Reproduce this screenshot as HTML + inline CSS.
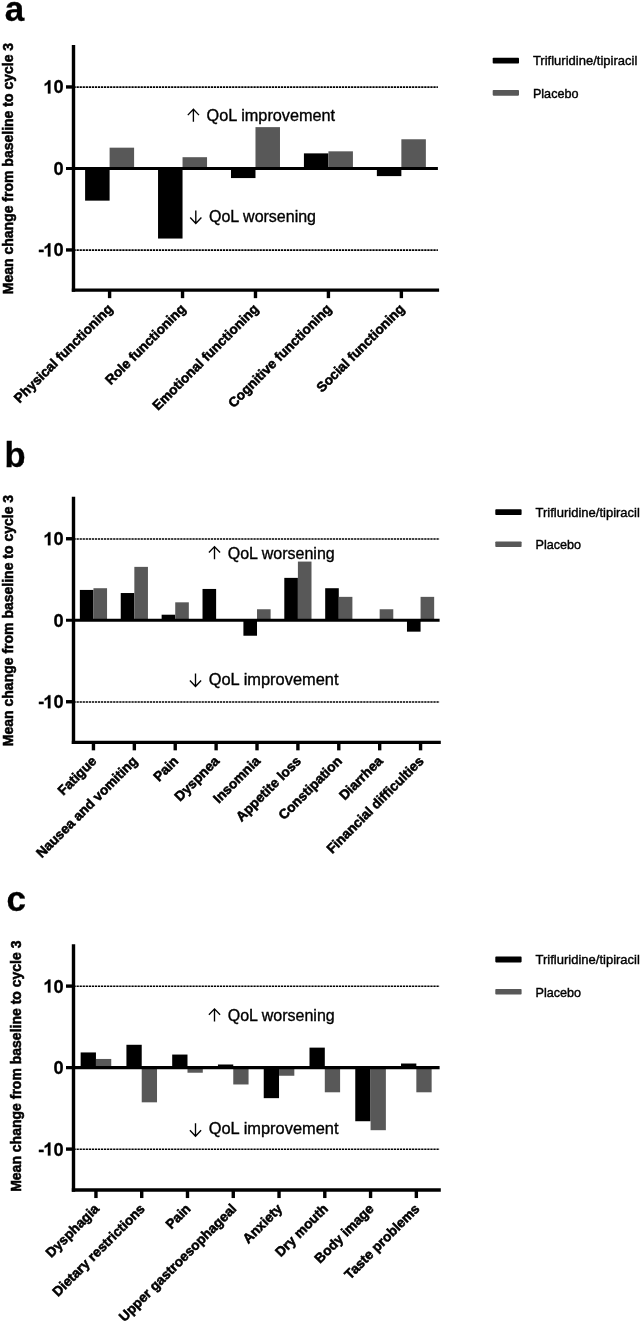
<!DOCTYPE html>
<html><head><meta charset="utf-8"><title>QoL charts</title>
<style>
html,body{margin:0;padding:0;background:#fff;}
svg{display:block;will-change:transform;}
text{font-family:"Liberation Sans",sans-serif;fill:#000;}
.tk{font-size:18.2px;font-weight:bold;stroke:#000;stroke-width:0.3px;}
.xl{font-size:13.6px;font-weight:bold;stroke:#000;stroke-width:0.55px;}
.yl{font-size:14px;font-weight:bold;stroke:#000;stroke-width:0.55px;}
.an{font-size:16px;stroke:#000;stroke-width:0.35px;}
.lg{font-size:13px;stroke:#000;stroke-width:0.4px;}
.lt{font-weight:bold;stroke:#000;stroke-width:0.3px;}
</style></head><body>
<svg width="642" height="1323" viewBox="0 0 642 1323">
<line x1="73.5" y1="87.15" x2="437.90" y2="87.15" stroke="#000" stroke-width="1.6" stroke-dasharray="2.25 0.8"/>
<line x1="73.5" y1="250.15" x2="437.90" y2="250.15" stroke="#000" stroke-width="1.6" stroke-dasharray="2.25 0.8"/>
<rect x="85.10" y="168.45" width="24.50" height="32.19" fill="#000"/>
<rect x="109.60" y="147.67" width="24.50" height="20.78" fill="#585858"/>
<rect x="158.04" y="168.45" width="24.50" height="70.09" fill="#000"/>
<rect x="182.54" y="157.20" width="24.50" height="11.25" fill="#585858"/>
<rect x="230.98" y="168.45" width="24.50" height="9.62" fill="#000"/>
<rect x="255.48" y="127.13" width="24.50" height="41.32" fill="#585858"/>
<rect x="303.92" y="153.37" width="24.50" height="15.08" fill="#000"/>
<rect x="328.42" y="151.33" width="24.50" height="17.12" fill="#585858"/>
<rect x="376.86" y="168.45" width="24.50" height="7.66" fill="#000"/>
<rect x="401.36" y="139.27" width="24.50" height="29.18" fill="#585858"/>
<line x1="73.5" y1="45.05" x2="73.5" y2="291.85" stroke="#000" stroke-width="3.4"/>
<line x1="71.8" y1="290.15" x2="439.1" y2="290.15" stroke="#000" stroke-width="3.4"/>
<line x1="66.0" y1="168.45" x2="437.90" y2="168.45" stroke="#000" stroke-width="3.15"/>
<line x1="66.0" y1="86.95" x2="73.5" y2="86.95" stroke="#000" stroke-width="3.4"/>
<line x1="66.0" y1="249.95" x2="73.5" y2="249.95" stroke="#000" stroke-width="3.4"/>
<text x="53.38" y="93.45" class="tk">0</text>
<path d="M806 0H525V1059Q371 915 162 846V1101Q272 1137 401 1237.5Q530 1338 578 1472H806Z" transform="translate(43.26,93.45) scale(0.00889,-0.00889)" fill="#000" stroke="#000" stroke-width="33.8"/>
<text x="53.38" y="174.95" class="tk">0</text>
<text x="53.38" y="256.45" class="tk">0</text>
<path d="M806 0H525V1059Q371 915 162 846V1101Q272 1137 401 1237.5Q530 1338 578 1472H806Z" transform="translate(43.26,256.45) scale(0.00889,-0.00889)" fill="#000" stroke="#000" stroke-width="33.8"/>
<text x="38.20" y="256.45" class="tk">-</text>
<line x1="109.60" y1="290.15" x2="109.60" y2="298.15" stroke="#000" stroke-width="3.4"/>
<text transform="translate(113.60,309.65) rotate(-45)" text-anchor="end" class="xl">Physical functioning</text>
<line x1="182.54" y1="290.15" x2="182.54" y2="298.15" stroke="#000" stroke-width="3.4"/>
<text transform="translate(186.54,309.65) rotate(-45)" text-anchor="end" class="xl">Role functioning</text>
<line x1="255.48" y1="290.15" x2="255.48" y2="298.15" stroke="#000" stroke-width="3.4"/>
<text transform="translate(259.48,309.65) rotate(-45)" text-anchor="end" class="xl">Emotional functioning</text>
<line x1="328.42" y1="290.15" x2="328.42" y2="298.15" stroke="#000" stroke-width="3.4"/>
<text transform="translate(332.42,309.65) rotate(-45)" text-anchor="end" class="xl">Cognitive functioning</text>
<line x1="401.36" y1="290.15" x2="401.36" y2="298.15" stroke="#000" stroke-width="3.4"/>
<text transform="translate(405.36,309.65) rotate(-45)" text-anchor="end" class="xl">Social functioning</text>
<text transform="translate(12.6,168.55) rotate(-90)" text-anchor="middle" class="yl">Mean change from baseline to cycle 3</text>
<path d="M193.40,109.20V121.80M187.80,115.10L193.40,109.20L199.00,115.10" fill="none" stroke="#000" stroke-width="1.35" stroke-linejoin="miter"/>
<text x="206.60" y="121.40" class="an" textLength="128.5" lengthAdjust="spacingAndGlyphs">QoL improvement</text>
<path d="M195.80,210.40V223.40M190.20,217.50L195.80,223.40L201.40,217.50" fill="none" stroke="#000" stroke-width="1.35" stroke-linejoin="miter"/>
<text x="209.00" y="221.60" class="an" textLength="107" lengthAdjust="spacingAndGlyphs">QoL worsening</text>
<rect x="492.70" y="57.75" width="26.3" height="5.8" rx="0.8" fill="#000"/>
<rect x="492.70" y="90.05" width="26.3" height="5.6" rx="0.8" fill="#585858"/>
<text x="532.90" y="65.35" class="lg" textLength="104.4" lengthAdjust="spacingAndGlyphs">Trifluridine/tipiracil</text>
<text x="532.90" y="97.65" class="lg" textLength="45.6" lengthAdjust="spacingAndGlyphs">Placebo</text>
<text x="4.8" y="20.6" class="lt" font-size="35">a</text>
<line x1="73.5" y1="538.95" x2="439.60" y2="538.95" stroke="#000" stroke-width="1.6" stroke-dasharray="2.25 0.8"/>
<line x1="73.5" y1="701.95" x2="439.60" y2="701.95" stroke="#000" stroke-width="1.6" stroke-dasharray="2.25 0.8"/>
<rect x="79.85" y="589.93" width="13.60" height="30.32" fill="#000"/>
<rect x="93.45" y="588.22" width="13.60" height="32.03" fill="#585858"/>
<rect x="120.74" y="593.03" width="13.60" height="27.22" fill="#000"/>
<rect x="134.34" y="566.87" width="13.60" height="53.38" fill="#585858"/>
<rect x="161.63" y="614.71" width="13.60" height="5.54" fill="#000"/>
<rect x="175.23" y="602.32" width="13.60" height="17.93" fill="#585858"/>
<rect x="202.52" y="588.95" width="13.60" height="31.30" fill="#000"/>
<rect x="243.41" y="620.25" width="13.60" height="15.48" fill="#000"/>
<rect x="257.01" y="609.25" width="13.60" height="11.00" fill="#585858"/>
<rect x="284.30" y="577.87" width="13.60" height="42.38" fill="#000"/>
<rect x="297.90" y="561.57" width="13.60" height="58.68" fill="#585858"/>
<rect x="325.19" y="588.22" width="13.60" height="32.03" fill="#000"/>
<rect x="338.79" y="596.86" width="13.60" height="23.39" fill="#585858"/>
<rect x="379.68" y="609.25" width="13.60" height="11.00" fill="#585858"/>
<rect x="406.97" y="620.25" width="13.60" height="11.41" fill="#000"/>
<rect x="420.57" y="596.86" width="13.60" height="23.39" fill="#585858"/>
<line x1="73.5" y1="496.85" x2="73.5" y2="744.05" stroke="#000" stroke-width="3.4"/>
<line x1="71.8" y1="742.35" x2="440.8" y2="742.35" stroke="#000" stroke-width="3.4"/>
<line x1="66.0" y1="620.25" x2="439.60" y2="620.25" stroke="#000" stroke-width="3.15"/>
<line x1="66.0" y1="538.75" x2="73.5" y2="538.75" stroke="#000" stroke-width="3.4"/>
<line x1="66.0" y1="701.75" x2="73.5" y2="701.75" stroke="#000" stroke-width="3.4"/>
<text x="53.38" y="545.25" class="tk">0</text>
<path d="M806 0H525V1059Q371 915 162 846V1101Q272 1137 401 1237.5Q530 1338 578 1472H806Z" transform="translate(43.26,545.25) scale(0.00889,-0.00889)" fill="#000" stroke="#000" stroke-width="33.8"/>
<text x="53.38" y="626.75" class="tk">0</text>
<text x="53.38" y="708.25" class="tk">0</text>
<path d="M806 0H525V1059Q371 915 162 846V1101Q272 1137 401 1237.5Q530 1338 578 1472H806Z" transform="translate(43.26,708.25) scale(0.00889,-0.00889)" fill="#000" stroke="#000" stroke-width="33.8"/>
<text x="38.20" y="708.25" class="tk">-</text>
<line x1="93.45" y1="742.35" x2="93.45" y2="750.35" stroke="#000" stroke-width="3.4"/>
<text transform="translate(97.45,761.85) rotate(-45)" text-anchor="end" class="xl">Fatigue</text>
<line x1="134.34" y1="742.35" x2="134.34" y2="750.35" stroke="#000" stroke-width="3.4"/>
<text transform="translate(138.34,761.85) rotate(-45)" text-anchor="end" class="xl">Nausea and vomiting</text>
<line x1="175.23" y1="742.35" x2="175.23" y2="750.35" stroke="#000" stroke-width="3.4"/>
<text transform="translate(179.23,761.85) rotate(-45)" text-anchor="end" class="xl">Pain</text>
<line x1="216.12" y1="742.35" x2="216.12" y2="750.35" stroke="#000" stroke-width="3.4"/>
<text transform="translate(220.12,761.85) rotate(-45)" text-anchor="end" class="xl">Dyspnea</text>
<line x1="257.01" y1="742.35" x2="257.01" y2="750.35" stroke="#000" stroke-width="3.4"/>
<text transform="translate(261.01,761.85) rotate(-45)" text-anchor="end" class="xl">Insomnia</text>
<line x1="297.90" y1="742.35" x2="297.90" y2="750.35" stroke="#000" stroke-width="3.4"/>
<text transform="translate(301.90,761.85) rotate(-45)" text-anchor="end" class="xl">Appetite loss</text>
<line x1="338.79" y1="742.35" x2="338.79" y2="750.35" stroke="#000" stroke-width="3.4"/>
<text transform="translate(342.79,761.85) rotate(-45)" text-anchor="end" class="xl">Constipation</text>
<line x1="379.68" y1="742.35" x2="379.68" y2="750.35" stroke="#000" stroke-width="3.4"/>
<text transform="translate(383.68,761.85) rotate(-45)" text-anchor="end" class="xl">Diarrhea</text>
<line x1="420.57" y1="742.35" x2="420.57" y2="750.35" stroke="#000" stroke-width="3.4"/>
<text transform="translate(424.57,761.85) rotate(-45)" text-anchor="end" class="xl">Financial difficulties</text>
<text transform="translate(12.6,620.50) rotate(-90)" text-anchor="middle" class="yl">Mean change from baseline to cycle 3</text>
<path d="M214.50,546.65V559.25M208.90,552.55L214.50,546.65L220.10,552.55" fill="none" stroke="#000" stroke-width="1.35" stroke-linejoin="miter"/>
<text x="227.70" y="558.85" class="an" textLength="107" lengthAdjust="spacingAndGlyphs">QoL worsening</text>
<path d="M195.50,673.45V686.45M189.90,680.55L195.50,686.45L201.10,680.55" fill="none" stroke="#000" stroke-width="1.35" stroke-linejoin="miter"/>
<text x="208.70" y="684.65" class="an" textLength="129.8" lengthAdjust="spacingAndGlyphs">QoL improvement</text>
<rect x="495.30" y="509.15" width="26.3" height="5.8" rx="0.8" fill="#000"/>
<rect x="495.30" y="541.45" width="26.3" height="5.6" rx="0.8" fill="#585858"/>
<text x="535.50" y="516.75" class="lg" textLength="104.4" lengthAdjust="spacingAndGlyphs">Trifluridine/tipiracil</text>
<text x="535.50" y="549.05" class="lg" textLength="45.6" lengthAdjust="spacingAndGlyphs">Placebo</text>
<text x="4.4" y="466.5" class="lt" font-size="34.5">b</text>
<line x1="73.5" y1="986.30" x2="439.60" y2="986.30" stroke="#000" stroke-width="1.6" stroke-dasharray="2.25 0.8"/>
<line x1="73.5" y1="1149.30" x2="439.60" y2="1149.30" stroke="#000" stroke-width="1.6" stroke-dasharray="2.25 0.8"/>
<rect x="80.65" y="1052.44" width="15.30" height="15.16" fill="#000"/>
<rect x="95.95" y="1058.96" width="15.30" height="8.64" fill="#585858"/>
<rect x="126.42" y="1044.78" width="15.30" height="22.82" fill="#000"/>
<rect x="141.72" y="1067.60" width="15.30" height="34.72" fill="#585858"/>
<rect x="172.19" y="1054.56" width="15.30" height="13.04" fill="#000"/>
<rect x="187.49" y="1067.60" width="15.30" height="5.13" fill="#585858"/>
<rect x="217.96" y="1064.50" width="15.30" height="3.10" fill="#000"/>
<rect x="233.26" y="1067.60" width="15.30" height="16.87" fill="#585858"/>
<rect x="263.73" y="1067.60" width="15.30" height="30.56" fill="#000"/>
<rect x="279.03" y="1067.60" width="15.30" height="8.15" fill="#585858"/>
<rect x="309.50" y="1047.63" width="15.30" height="19.97" fill="#000"/>
<rect x="324.80" y="1067.60" width="15.30" height="24.69" fill="#585858"/>
<rect x="355.27" y="1067.60" width="15.30" height="53.63" fill="#000"/>
<rect x="370.57" y="1067.60" width="15.30" height="62.59" fill="#585858"/>
<rect x="401.04" y="1063.52" width="15.30" height="4.08" fill="#000"/>
<rect x="416.34" y="1067.60" width="15.30" height="24.69" fill="#585858"/>
<line x1="73.5" y1="944.20" x2="73.5" y2="1191.75" stroke="#000" stroke-width="3.4"/>
<line x1="71.8" y1="1190.05" x2="440.8" y2="1190.05" stroke="#000" stroke-width="3.4"/>
<line x1="66.0" y1="1067.60" x2="439.60" y2="1067.60" stroke="#000" stroke-width="3.15"/>
<line x1="66.0" y1="986.10" x2="73.5" y2="986.10" stroke="#000" stroke-width="3.4"/>
<line x1="66.0" y1="1149.10" x2="73.5" y2="1149.10" stroke="#000" stroke-width="3.4"/>
<text x="53.38" y="992.60" class="tk">0</text>
<path d="M806 0H525V1059Q371 915 162 846V1101Q272 1137 401 1237.5Q530 1338 578 1472H806Z" transform="translate(43.26,992.60) scale(0.00889,-0.00889)" fill="#000" stroke="#000" stroke-width="33.8"/>
<text x="53.38" y="1074.10" class="tk">0</text>
<text x="53.38" y="1155.60" class="tk">0</text>
<path d="M806 0H525V1059Q371 915 162 846V1101Q272 1137 401 1237.5Q530 1338 578 1472H806Z" transform="translate(43.26,1155.60) scale(0.00889,-0.00889)" fill="#000" stroke="#000" stroke-width="33.8"/>
<text x="38.20" y="1155.60" class="tk">-</text>
<line x1="95.95" y1="1190.05" x2="95.95" y2="1198.05" stroke="#000" stroke-width="3.4"/>
<text transform="translate(99.95,1209.55) rotate(-45)" text-anchor="end" class="xl">Dysphagia</text>
<line x1="141.72" y1="1190.05" x2="141.72" y2="1198.05" stroke="#000" stroke-width="3.4"/>
<text transform="translate(145.72,1209.55) rotate(-45)" text-anchor="end" class="xl">Dietary restrictions</text>
<line x1="187.49" y1="1190.05" x2="187.49" y2="1198.05" stroke="#000" stroke-width="3.4"/>
<text transform="translate(191.49,1209.55) rotate(-45)" text-anchor="end" class="xl">Pain</text>
<line x1="233.26" y1="1190.05" x2="233.26" y2="1198.05" stroke="#000" stroke-width="3.4"/>
<text transform="translate(237.26,1209.55) rotate(-45)" text-anchor="end" class="xl">Upper gastroesophageal</text>
<line x1="279.03" y1="1190.05" x2="279.03" y2="1198.05" stroke="#000" stroke-width="3.4"/>
<text transform="translate(283.03,1209.55) rotate(-45)" text-anchor="end" class="xl">Anxiety</text>
<line x1="324.80" y1="1190.05" x2="324.80" y2="1198.05" stroke="#000" stroke-width="3.4"/>
<text transform="translate(328.80,1209.55) rotate(-45)" text-anchor="end" class="xl">Dry mouth</text>
<line x1="370.57" y1="1190.05" x2="370.57" y2="1198.05" stroke="#000" stroke-width="3.4"/>
<text transform="translate(374.57,1209.55) rotate(-45)" text-anchor="end" class="xl">Body image</text>
<line x1="416.34" y1="1190.05" x2="416.34" y2="1198.05" stroke="#000" stroke-width="3.4"/>
<text transform="translate(420.34,1209.55) rotate(-45)" text-anchor="end" class="xl">Taste problems</text>
<text transform="translate(20.8,1066.20) rotate(-90)" text-anchor="middle" class="yl">Mean change from baseline to cycle 3</text>
<path d="M214.50,1008.90V1021.50M208.90,1014.80L214.50,1008.90L220.10,1014.80" fill="none" stroke="#000" stroke-width="1.35" stroke-linejoin="miter"/>
<text x="227.70" y="1021.10" class="an" textLength="107" lengthAdjust="spacingAndGlyphs">QoL worsening</text>
<path d="M195.50,1123.20V1136.20M189.90,1130.30L195.50,1136.20L201.10,1130.30" fill="none" stroke="#000" stroke-width="1.35" stroke-linejoin="miter"/>
<text x="208.70" y="1134.40" class="an" textLength="129.8" lengthAdjust="spacingAndGlyphs">QoL improvement</text>
<rect x="495.30" y="956.60" width="26.3" height="5.8" rx="0.8" fill="#000"/>
<rect x="495.30" y="988.90" width="26.3" height="5.6" rx="0.8" fill="#585858"/>
<text x="535.50" y="964.20" class="lg" textLength="104.4" lengthAdjust="spacingAndGlyphs">Trifluridine/tipiracil</text>
<text x="535.50" y="996.50" class="lg" textLength="45.6" lengthAdjust="spacingAndGlyphs">Placebo</text>
<text x="6.4" y="911.4" class="lt" font-size="35">c</text>
</svg>
</body></html>
